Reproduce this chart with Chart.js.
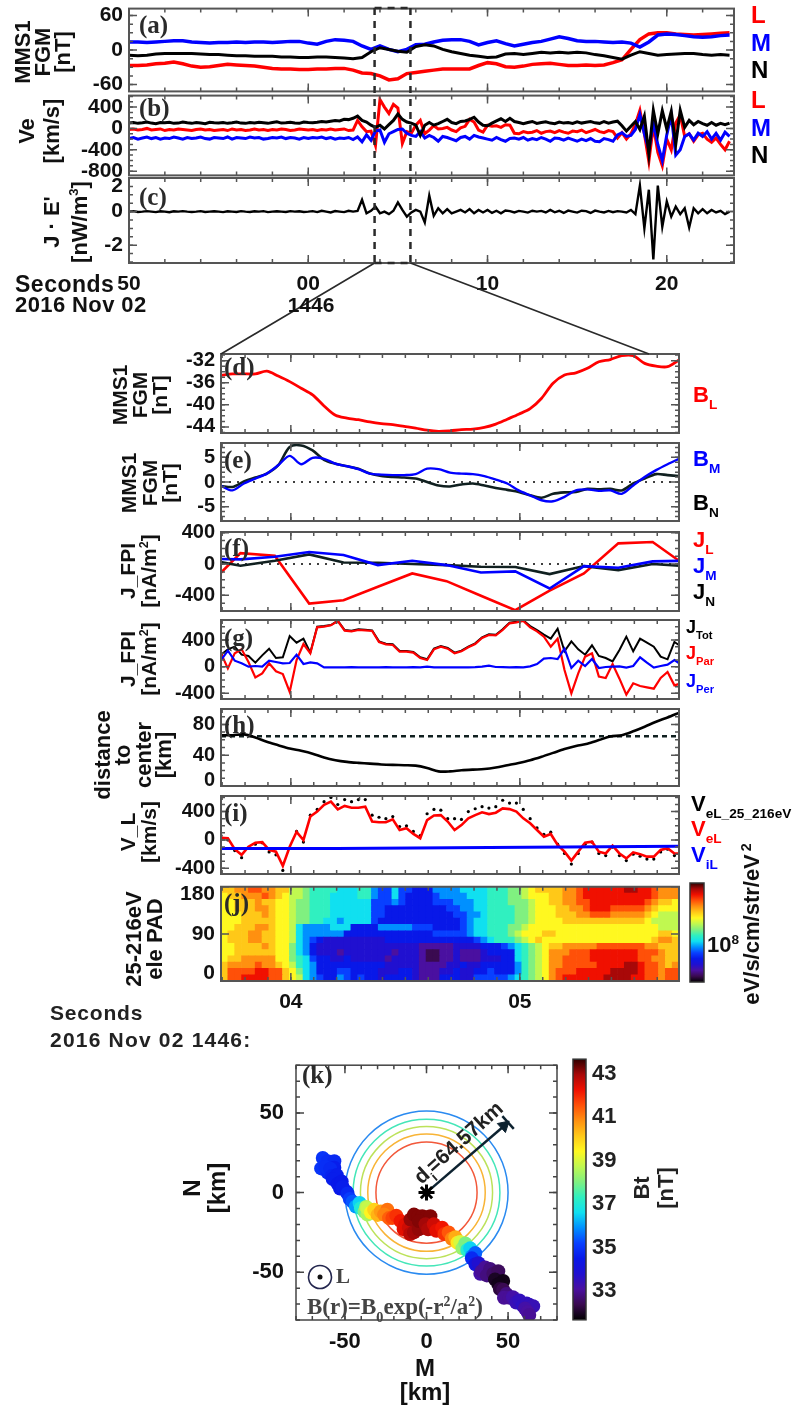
<!DOCTYPE html>
<html>
<head>
<meta charset="utf-8">
<title>MMS1 electron vortex event</title>
<script src="https://cdn.jsdelivr.net/npm/chart.js@4"></script>
<style>
  html, body { margin: 0; padding: 0; background: #fff; }
  #page { position: relative; width: 796px; height: 1407px; overflow: hidden; }
  canvas { position: absolute; }
  .t { position: absolute; white-space: nowrap; font-family: "Liberation Sans", sans-serif; font-weight: bold; text-align: center; }
  .t sub { font-size: 62%; line-height: 0; vertical-align: -0.55em; }
  svg { position: absolute; left: 0; top: 0; }
</style>
</head>
<body>
<div id="page"></div>
<script>
// ---- panels a, b, c: seconds after 14:46:00
const tA = [-10,-9.5,-9,-8.5,-8,-7.5,-7,-6.5,-6,-5.5,-5,-4.5,-4,-3.5,-3,-2.5,-2,-1.5,-1,-0.5,0,0.5,1,1.5,2,2.5,3,3.5,4,4.5,5,5.5,6,6.5,7,7.5,8,8.5,9,9.5,10,10.5,11,11.5,12,12.5,13,13.5,14,14.5,15,15.5,16,16.5,17,17.5,18,18.5,19,19.5,20,20.5,21,21.5,22,22.5,23,23.5];
const bL = [-27,-27,-26,-24,-23,-21,-24,-28,-30,-29,-27,-25,-26,-27,-28,-30,-32,-33,-33,-34,-34,-33,-33,-32,-32,-35,-40,-41,-45,-52,-50,-41,-39,-37,-35,-33,-33,-33,-33,-27,-22,-24,-29,-30,-28,-25,-24,-23,-25,-27,-27,-26,-27,-26,-22,-17,1,18,28,30,30,28,27,26,27,28,29,30];
const bM = [14,14,13,14,15,16,16,14,13,12,13,13,14,13,14,14,13,14,15,15,12,10,15,18,17,15,7,1,7,1,-3,1,9,10,14,17,18,18,15,9,13,16,11,7,10,13,15,19,23,20,16,15,15,14,13,14,12,5,14,26,28,27,25,23,22,23,25,26];
const bN = [-9,-10,-9,-7,-6,-6,-6,-6,-7,-8,-8,-9,-10,-10,-11,-11,-11,-12,-12,-13,-13,-12,-12,-13,-14,-15,-13,-3,4,1,-2,-4,6,9,7,1,-3,-6,-9,-11,-13,-12,-7,-6,-8,-6,-4,-5,-4,-5,-4,-5,-8,-10,-13,-16,-9,-3,-6,-9,-8,-7,-6,-6,-8,-9,-8,-9];

const tB = [-10,-9.75,-9.5,-9.25,-9,-8.75,-8.5,-8.25,-8,-7.75,-7.5,-7.25,-7,-6.75,-6.5,-6.25,-6,-5.75,-5.5,-5.25,
  -5,-4.75,-4.5,-4.25,-4,-3.75,-3.5,-3.25,-3,-2.75,-2.5,-2.25,-2,-1.75,-1.5,-1.25,-1,-0.75,-0.5,-0.25,
  0,0.25,0.5,0.75,1,1.25,1.5,1.75,2,2.25,2.5,2.75,3,3.25,3.5,3.75,4,4.25,4.5,4.75,
  5,5.25,5.5,5.75,6,6.25,6.5,6.75,7,7.25,7.5,7.75,8,8.25,8.5,8.75,9,9.25,9.5,9.75,
  10,10.25,10.5,10.75,11,11.25,11.5,11.75,12,12.25,12.5,12.75,13,13.25,13.5,13.75,14,14.25,14.5,14.75,
  15,15.25,15.5,15.75,16,16.25,16.5,16.75,17,17.25,17.5,17.75,18,18.25,18.5,18.75,19,19.25,19.5,19.75,
  20,20.25,20.5,20.75,21,21.25,21.5,21.75,22,22.25,22.5,22.75,23,23.25,23.5];
const veN = [100,110,95,105,120,100,90,110,105,115,95,100,120,105,95,110,100,90,115,105,
  100,110,95,105,120,100,95,110,100,115,105,95,110,125,100,105,115,100,95,120,
  110,105,115,130,120,135,150,140,170,165,190,230,150,120,60,20,60,-10,70,150,
  270,170,120,100,60,-130,60,110,60,90,130,170,110,90,130,140,170,210,120,60,
  50,100,140,180,130,190,130,110,90,110,130,95,110,125,100,90,120,100,110,95,
  125,100,115,130,105,95,130,100,120,135,50,-50,40,130,-20,230,-480,340,-100,330,
  -10,320,-300,340,20,150,70,130,90,60,110,60,95,70,100];
const veL = [-20,-10,-30,-20,0,-30,-20,-10,-40,-20,-30,-10,-20,-30,-40,-20,-10,-30,-20,-40,
  -30,-20,-40,-10,-30,-20,-40,-30,-10,-30,-20,-40,-20,-30,-10,-20,-40,-30,-10,-20,
  -30,-20,-40,-20,-30,-10,-30,-20,-10,-40,-30,150,30,-60,-50,-320,540,400,280,450,
  380,-280,-60,-90,60,150,-100,-30,50,-10,0,20,-30,-60,10,40,170,120,-30,-70,
  60,40,50,20,70,60,-90,-100,-60,-80,-70,-40,-90,-60,-50,-80,-40,-70,-90,-50,
  -60,-30,-80,-50,-20,-60,-80,-40,-60,-180,-80,-200,-100,80,340,-100,-620,50,-450,-700,
  -200,-400,100,250,-150,-100,-240,-120,-90,-200,-260,-180,-300,-400,-240];
const veM = [-190,-170,-200,-180,-160,-190,-170,-200,-180,-190,-160,-180,-200,-170,-190,-180,-160,-190,-200,-170,
  -180,-190,-160,-200,-170,-180,-190,-160,-180,-170,-200,-190,-170,-180,-160,-190,-170,-180,-200,-170,
  -190,-170,-180,-160,-190,-170,-200,-180,-190,-170,-210,-160,-250,-120,-220,-50,-30,-260,-100,-60,
  -20,-10,-90,-130,-150,-60,-180,-130,-170,-240,-150,-170,-200,-230,-170,-150,-200,-130,-160,-180,
  -200,-220,-170,-210,-240,-190,-180,-200,-170,-220,-190,-210,-170,-200,-240,-180,-190,-220,-180,-210,
  -240,-200,-230,-190,-240,-250,-190,-210,-240,-120,-80,-150,-130,-20,260,-100,-400,100,-300,-600,
  -120,250,-500,-400,-150,-100,-220,-90,-150,-60,-200,-90,-220,-70,-150];
const jDotE = [0,0.03,-0.02,0,0.03,0,-0.03,0.02,0,-0.04,0.02,0,0.03,0,-0.02,0,0.03,-0.02,0,0.02,
  0,-0.03,0.02,0,-0.02,0.03,0,-0.02,0.02,0,0.03,-0.03,0,0.02,0,-0.02,0.03,0,0.02,-0.02,
  0,0.03,-0.03,0.05,0,-0.05,0.03,0,-0.03,0.05,0,0.04,0.7,-0.1,0.05,0.3,-0.1,0,-0.15,0.05,
  0.55,0.1,-0.3,-0.05,0.1,0,-0.65,0.95,-0.25,0.2,-0.1,0.15,-0.1,0,0.1,-0.05,0.15,-0.1,0.1,-0.05,
  0.1,-0.08,0.05,-0.1,0.06,0.03,-0.05,0.04,0,-0.06,0.05,0,0.04,-0.05,0.1,-0.04,0.05,-0.08,0.06,0,
  -0.06,0.05,0.03,-0.08,0.06,0,-0.05,0.04,-0.04,0.03,0,-0.05,0.1,-0.15,1.55,-1,1.3,-2.85,1.55,-0.9,
  0.6,-0.3,0.3,-0.15,0.2,-0.95,0.2,-0.1,0.15,-0.1,0.1,-0.05,0.05,-0.15,0];

// ---- panels d to j: zoomed interval, seconds after 14:46:00
const tD = [3.695,3.745,3.795,3.845,3.895,3.945,3.995,4.045,4.095,4.145,4.195,4.245,4.295,4.345,4.395,4.445,4.495,4.545,4.595,4.645,4.695,4.745,4.795,4.845,4.895,4.945,4.995,5.045,5.095,5.145,5.195,5.245,5.295,5.345,5.395,5.445,5.495,5.545,5.595,5.645,5.695];
const fgmL = [-34.7,-34.4,-34.4,-34.4,-33.9,-34.8,-35.8,-37,-38.2,-40.2,-41.9,-42.4,-42.7,-43.1,-43.4,-43.6,-43.9,-44.2,-44.6,-44.8,-44.7,-44.5,-44.4,-44.1,-43.5,-42.6,-41.7,-40.7,-38.8,-36.1,-34.6,-34.2,-33.4,-32.2,-31.8,-31.1,-31.1,-32.5,-33,-33.1,-31.9];
const fgmN = [-0.8,-1,0.1,0.9,1.7,3.4,7.1,7.4,6.4,4.5,3.7,3.2,2.7,1.7,1.2,1,0.9,0.7,0,-0.7,-0.9,-0.5,-0.3,-0.7,-1.2,-1.6,-2,-2.7,-3.2,-2.4,-2.1,-2,-1.4,-1.5,-1.4,-1.7,-0.3,0.7,1.6,1.4,1.2];
const fgmM = [-0.8,-1.7,-0.3,0.7,1.7,3.4,5.3,3.6,4.9,4.7,3.7,3.2,2.6,1.7,1.5,1.4,1.4,1.6,2.7,2.6,1.9,1.7,1.6,1.2,0.5,-0.3,-1.7,-2.7,-3.7,-3.9,-3,-1.7,-1.5,-1.8,-1.7,-2.4,-0.7,1,2.4,3.6,4.7];
const distCenter = [66,66,67,63,57.4,53,48.7,45.7,42,37,33.5,31.3,30,29,28,27.4,27,26.5,23.5,19,19,20.4,21.3,22,24,27,30,33.5,38,43,48,52,55,59.6,64.3,66,71,77,83.5,89,95];
const diRadius = [64.57,64.57];
const edgeT = [3.695,5.695];
const zeroLine = [0,0];

const tF = [3.63,3.78,3.93,4.08,4.23,4.38,4.53,4.68,4.83,4.98,5.13,5.28,5.43,5.58,5.73];
const jL = [-300,140,107,-505,-462,-290,-120,-218,-405,-590,-340,-120,265,282,-30];
const jM = [70,60,94,154,115,-13,43,-13,-107,-94,-312,-26,-47,34,43];
const jN = [60,-21,43,124,21,17,0,-13,-34,-38,-128,-26,-77,0,-26];

const tG = [3.695,3.725,3.755,3.785,3.815,3.845,3.875,3.905,3.935,3.965,3.995,4.025,4.055,4.085,4.115,4.145,4.175,4.205,4.235,4.265,4.295,4.325,4.355,4.385,4.415,4.445,4.475,4.505,4.535,4.565,4.595,4.625,4.655,4.685,4.715,4.745,4.775,4.805,4.835,4.865,4.895,4.925,4.955,4.985,5.015,5.045,5.075,5.105,5.135,5.165,5.195,5.225,5.255,5.285,5.315,5.345,5.375,5.405,5.435,5.465,5.495,5.525,5.555,5.585,5.615,5.645,5.675,5.705];
const jPar = [200,-25,200,260,70,-160,-100,50,-70,-110,-380,100,340,200,590,600,620,685,540,530,550,545,535,370,335,325,225,225,210,130,100,260,300,270,200,230,290,340,430,475,470,550,650,665,685,590,530,450,300,420,-50,-400,-100,150,200,-150,-170,40,-180,-420,-250,-290,-310,-330,-170,-80,-280,-250];
const jTot = [180,260,300,180,160,60,170,270,130,140,460,360,420,210,600,610,625,690,550,540,560,555,545,380,345,335,235,235,220,140,110,270,310,280,210,240,300,350,440,485,480,560,660,675,695,610,550,480,420,570,230,380,260,180,320,160,130,80,250,450,230,420,360,300,150,110,370,300];
const jPer = [100,240,90,50,0,10,0,90,70,50,55,180,40,65,50,-10,-10,-10,-12,-8,-12,-10,-12,-10,-8,-12,-10,-10,-8,-10,0,-10,-12,-10,-10,-12,-10,-8,0,15,-5,-8,-10,-8,-10,5,40,120,130,115,270,-20,90,10,115,-20,-5,0,5,-15,10,140,60,-15,10,30,100,30];

const vRed = [30,25,-130,-210,-95,-40,-30,-140,-165,-365,-95,115,0,330,400,495,540,430,480,455,455,470,260,250,250,290,140,165,85,25,280,345,350,260,140,210,305,350,390,365,385,445,435,400,305,235,140,45,85,-70,-165,-290,-165,-40,-25,-165,-190,-80,-190,-260,-175,-200,-235,-235,-140,-115,-190,-190];
const vDots = [60,0,-150,-250,-110,-60,-40,-170,-210,-430,-120,120,-30,350,430,540,600,500,570,540,570,570,350,320,300,330,190,200,120,60,370,430,420,300,300,290,400,440,470,450,470,560,520,520,430,300,170,80,110,-60,-190,-340,-190,-60,-30,-190,-220,-100,-220,-290,-200,-230,-270,-270,-170,-130,-220,-230];
const tIon = [3.695,4.2,4.7,5.2,5.695];
const vIon = [-120,-120,-110,-100,-90];

// pitch angle levels, one hex digit per 30 ms cell, rows from 180 down to 0 deg
const padRows = [
  'bbccddcc bb 998 77776 6677 544 6 44333 5555 6666 7778 89a bbbbc cd eeeee effee dccc',
  'abbcccdc ba 998 77766 6677 544 6 43333 4555 5666 7778 89a aabbc cd eeeee eeeee dccc',
  'aabbbcbb aa 988 77766 6666 444 5 43333 4445 5566 7778 889 aabbc cd deeee eeeed cbba',
  'aabbbccb aa 988 77766 6666 443 3 33333 3344 5566 7777 889 aaabb cc deeed ddddc baaa',
  'aaabbbcb aa 988 77766 6666 443 3 33333 3334 4556 7777 889 aaabb bc cdddc ccccb a999',
  'aaabbbbb aa 988 77665 6666 433 3 33333 3333 4566 7777 889 aaaab bb bbbbb bbbba 9999',
  'aabbbccb aa 965 55566 6333 355 5 55444 3333 4566 7778 89a aaaaa aa aaaaa aaaaa a999',
  'abbbccbb aa 965 55555 3333 333 3 33333 4444 4566 7778 9aa abbaa aa aaaaa aaaaa abba',
  'abbbccbb aa 965 43222 2222 223 3 33333 3333 3345 6777 89a baaaa aa aaaaa aaaaa bccb',
  'aabbbbcb aa 865 32222 2222 222 2 22211 1112 2223 3345 678 9abbc cc ccddd ddddc cbbb',
  'aabbbbbb aa 865 32221 2222 222 1 22210 0112 1112 3333 678 9accc dd deeee eeedd dcbb',
  'abbccccc aa 876 43322 3222 221 2 22210 0112 1112 2233 678 9accd dd deeee eeedd ccbb',
  'bccccdcc ba 976 53333 3333 332 2 22211 1122 3223 3333 578 9accd dd ddeee effed dcbc',
  'bddddeed db a86 53334 4333 322 2 33211 1223 2233 4333 578 9acdd de eeeef fffed dcdd',
  'bddeeeed db a96 54335 4343 323 3 33211 1333 2244 4445 678 9acde ee eeeff ffeed dcdd'
];
const padHeight = 12;

// ---- panel k
const trackM = [-63.6,-64.6,-60.6,-56.5,-56.5,-60.6,-62,-59,-58,-55,-57.5,-54.5,-52,-53,-51.4,-49,-48.4,-47,-45.3,-43.3,-41,-40.2,-38,-36.2,-37,-36.2,-34,-32.1,-30,-28,-24,-26,-23,-20.9,-18.5,-15.9,-13,-14,-10.8,-10,-7.7,-4.7,-9.8,-7.7,-5,-2.6,0,2.4,-4.7,-0.6,1,4.5,6,9.6,11,13.6,15.5,17.7,19,20.7,22,23.8,25,26.8,28,29.9,27.8,30,31.9,33,33.9,36,39,37,41,44,42,47,44,45,47,49,47.5,51,53,55,57,59,61.4,63,65.4,60.4,62,63];
const trackN = [21.7,15.2,19.7,19.7,15.6,12.6,16,15,10.5,11,8.5,5.5,7,2.5,3.5,0.5,-0.6,-4,-5.7,-8.7,-6.5,-9.8,-12,-13.8,-9,-9.8,-12.5,-10.8,-14,-11.8,-10.8,-13.8,-16,-15.9,-14.5,-17.9,-20,-23,-22,-26,-25,-23,-16.9,-13.8,-15,-14.8,-15.5,-14.8,-17.9,-19.9,-23,-19.9,-24,-22,-26,-25,-29,-28,-31.5,-31,-35,-32,-36,-35,-40,-38,-41.3,-45,-44.3,-51,-49.4,-47,-48,-52,-51,-49.4,-54.5,-55.5,-57.5,-60.6,-61,-63.6,-66,-66,-65.7,-69,-67.7,-71,-69.7,-70.5,-71.3,-72.8,-75,-76.8];
const trackBt = [35,35,34.9,34.8,34.6,34.8,34.9,34.8,34.7,34.6,34.6,34.5,34.5,34.5,34.6,34.6,34.8,35.1,35.4,36,36.5,37,38,38.5,38.6,38.8,39.5,40,40.4,40.7,41.2,41,41.4,41.7,41.9,42.2,42.4,42.4,42.6,42.8,43,43.1,43.1,43.2,43.2,43.2,43.2,43.2,43.2,43,42.9,42.6,42.4,42.2,41.9,41.5,41,40.5,39.7,39,38.3,38,37.2,36.5,35.8,35.5,34.8,34.2,33.8,33.2,33,33,32.8,32.8,32.6,32.5,32,31.9,31.9,32.2,32.4,32.8,33,33,33.2,33.4,33.5,33.6,33.5,33.5,33.4,33.2,33.1,33];
const ringRadii = [50,45,40.5,36,31];
const ringColors = ['#2a8af0','#44e6b8','#bce25a','#f8b436','#f2583a'];
const arrowM = [0,50];
const arrowN = [0,44];
const arrowHeadM = [47.5];
const arrowHeadN = [42];
const endBarM = [46.5,53.5];
const endBarN = [48,40];

// tick values and labels
const timeTicksTop = [-10,0,10,20];
const labelsTop = ['50','00','10','20'];
const timeTicksZoom = [4,5];
const labelsZoom = ['04','05'];
const ticksBField = [60,0,-60];
const ticksVe = [400,0,-400,-800];
const ticksJE = [2,0,-2];
const ticksBL = [-32,-36,-40,-44];
const ticksBMN = [5,0,-5];
const ticksJ = [400,0,-400];
const ticksDist = [80,40,0];
const ticksPad = [180,90,0];
const ticksK = [-50,0,50];
const ticksBt = [33,35,37,39,41,43];

const jetStops = ['#000000','#3a0a50','#4a10a0','#2010d0','#0818e8','#0840ff','#0090ff','#10e0f0','#30f0c0','#80f080','#c0f850','#fff820','#ffc818','#ff9010','#ff5008','#f01000','#a80808','#300000'];
const RED = '#ff0000', BLUE = '#0000ff', BLACK = '#000000';
const SANS = '"Liberation Sans", sans-serif';

const page = document.getElementById('page');

function hexToRgb(h) {
  return [1,3,5].map(i => parseInt(h.substr(i,2),16));
}

function jetColor(t) {
  const p = Math.max(0, Math.min(0.9999, t)) * (jetStops.length - 1);
  const i = Math.floor(p), f = p - i;
  const a = hexToRgb(jetStops[i]), b = hexToRgb(jetStops[i+1]);
  return 'rgb(' + a.map((v,k) => Math.round(v + (b[k]-v)*f)).join(',') + ')';
}

function toXY(xs, ys) {
  return xs.map((x,i) => ({x: x, y: ys[i]}));
}

function line(xs, ys, color, width, extra) {
  return Object.assign({data: toXY(xs,ys), borderColor: color, borderWidth: width, pointRadius: 0, tension: 0, fill: false}, extra || {});
}

const ticksAt = vals => s => { s.ticks = vals.map(v => ({value: v})); };

// box frame plus IDL style inward ticks
const framePlugin = {
  id: 'frame',
  afterDraw(chart, args, o) {
    const c = chart.ctx, a = chart.chartArea;
    const xs = chart.scales[o.xScale || 'x'], ys = chart.scales[o.yScale || 'y'];
    c.save();
    c.strokeStyle = o.color || '#555';
    c.lineWidth = 1.5;
    const walk = (scale, step, len, draw) => {
      if (!step) return;
      const n0 = Math.ceil(scale.min/step - 1e-6), n1 = Math.floor(scale.max/step + 1e-6);
      for (let n = n0; n <= n1; n++) draw(scale.getPixelForValue(n*step), len);
    };
    const xTick = (px, len) => { c.beginPath(); c.moveTo(px,a.bottom); c.lineTo(px,a.bottom-len); c.moveTo(px,a.top); c.lineTo(px,a.top+len); c.stroke(); };
    const yTick = (py, len) => { c.beginPath(); c.moveTo(a.left,py); c.lineTo(a.left+len,py); c.moveTo(a.right,py); c.lineTo(a.right-len,py); c.stroke(); };
    walk(xs, o.xStep, 8, xTick);
    walk(xs, o.xMinor, 4, xTick);
    walk(ys, o.yStep, 8, yTick);
    walk(ys, o.yMinor, 4, yTick);
    c.lineWidth = o.width || 2;
    c.strokeRect(a.left, a.top, a.right-a.left, a.bottom-a.top);
    c.restore();
  }
};

// Gaussian contours of panel k
const ringPlugin = {
  id: 'rings',
  beforeDatasetsDraw(chart, args, o) {
    if (!o.radii) return;
    const c = chart.ctx, xs = chart.scales.x, ys = chart.scales.y;
    c.save();
    c.lineWidth = 1.5;
    o.radii.forEach((r,i) => {
      c.strokeStyle = o.colors[i];
      c.beginPath();
      c.arc(xs.getPixelForValue(0), ys.getPixelForValue(0), xs.getPixelForValue(r)-xs.getPixelForValue(0), 0, Math.PI*2);
      c.stroke();
    });
    c.restore();
  }
};
Chart.register(framePlugin, ringPlugin);

// one chart per panel, its plot area pinned to the given box
function panel(box, cfg) {
  const pad = 18, bottomExtra = cfg.bottomAxis ? 34 : 0;
  const canvas = document.createElement('canvas');
  const H = box.b - box.t + pad*2 + bottomExtra;
  canvas.width = 796;
  canvas.height = H;
  canvas.style.left = '0px';
  canvas.style.top = (box.t - pad) + 'px';
  page.appendChild(canvas);

  const yOpt = Object.assign({
    type: 'linear',
    grid: {display: false, drawTicks: false},
    border: {display: false},
    afterFit: s => { s.width = cfg.rightAxis ? 796 - box.r : box.l; }
  }, cfg.y);
  yOpt.ticks = Object.assign({autoSkip: false, color: '#111', padding: 6, callback: v => String(v), font: {family: SANS, weight: 'bold', size: 20}}, (cfg.y || {}).ticks);

  const scales = Object.assign({y: yOpt}, cfg.x);
  const options = {
    responsive: false,
    animation: false,
    devicePixelRatio: 1,
    layout: {padding: {left: cfg.rightAxis ? box.l : 0, right: cfg.rightAxis ? 0 : 796 - box.r, top: pad, bottom: cfg.bottomAxis ? 0 : pad}},
    scales: scales,
    plugins: Object.assign({legend: {display: false}, tooltip: {enabled: false}, frame: cfg.frame || {}}, cfg.plugins)
  };
  return new Chart(canvas, {type: cfg.type || 'line', data: {labels: cfg.labels, datasets: cfg.datasets}, options: options});
}

// a linear time axis, labels only where asked
function timeAxis(min, max, vals, labels) {
  return {
    type: 'linear', min: min, max: max, display: !!labels, offset: false,
    grid: {display: false, drawTicks: false},
    border: {display: false},
    afterFit: s => { s.height = labels ? 52 : 0; },
    afterBuildTicks: ticksAt(vals),
    ticks: {
      autoSkip: false, maxRotation: 0, padding: 9, color: '#111',
      font: {family: SANS, weight: 'bold', size: 21},
      callback: v => labels ? labels[vals.indexOf(v)] : ''
    }
  };
}

// keep IDL's habit of pulling the edge labels inside the box
function edgeLabels(top, bottom) {
  return v => {
    if (v === top) return ['', String(v)];
    if (v === bottom) return [String(v), ''];
    return String(v);
  };
}

function txt(x, y, html, o) {
  o = o || {};
  const d = document.createElement('div');
  d.className = 't';
  d.innerHTML = html;
  d.style.left = x + 'px';
  d.style.top = y + 'px';
  d.style.fontSize = (o.size || 22) + 'px';
  d.style.color = o.color || '#111';
  d.style.lineHeight = (o.lh || 1.1);
  if (o.serif) d.style.fontFamily = '"Liberation Serif", serif';
  if (o.ls) d.style.letterSpacing = o.ls + 'px';
  const tx = o.left ? '0' : '-50%';
  d.style.transform = 'translate(' + tx + ',-50%) rotate(' + (o.rot || 0) + 'deg)';
  page.appendChild(d);
}

// ---- top three panels
const X_TOP = {l: 129, r: 734};
const xTop = show => ({x: timeAxis(-10, 23.75, timeTicksTop, show ? labelsTop : null)});
const topFont = {family: SANS, weight: 'bold', size: 21};

panel({l: X_TOP.l, r: X_TOP.r, t: 8, b: 92}, {
  x: xTop(false),
  y: {min: -72, max: 72, afterBuildTicks: ticksAt(ticksBField), ticks: {font: topFont}},
  frame: {xStep: 10, xMinor: 2, yStep: 60, yMinor: 15},
  datasets: [line(tA,bN,BLACK,3), line(tA,bM,BLUE,3.5), line(tA,bL,RED,3.5)]
});

panel({l: X_TOP.l, r: X_TOP.r, t: 95, b: 176}, {
  x: xTop(false),
  y: {min: -880, max: 615, afterBuildTicks: ticksAt(ticksVe), ticks: {font: topFont}},
  frame: {xStep: 10, xMinor: 2, yStep: 400, yMinor: 100},
  datasets: [line(tB,veN,BLACK,3), line(tB,veM,BLUE,3), line(tB,veL,RED,3)]
});

const chartC = panel({l: X_TOP.l, r: X_TOP.r, t: 178, b: 263}, {
  bottomAxis: true,
  x: xTop(true),
  y: {min: -3.06, max: 2, afterBuildTicks: ticksAt(ticksJE), ticks: {callback: edgeLabels(2, null), font: {family: SANS, weight: 'bold', size: 21, lineHeight: 0.8}}},
  frame: {xStep: 10, xMinor: 2, yStep: 2, yMinor: 0.5},
  datasets: [line(tB,jDotE,BLACK,2.4)]
});

// ---- zoomed panels
const XZ = {l: 221, r: 679};
const xZoom = show => ({x: timeAxis(3.695, 5.695, timeTicksZoom, show ? labelsZoom : null)});
const zoomFrame = (step, minor) => ({xStep: 1, xMinor: 0.1, yStep: step, yMinor: minor});
const zoomFont = {family: SANS, weight: 'bold', size: 20};

panel({l: XZ.l, r: XZ.r, t: 354, b: 433}, {
  x: xZoom(false),
  y: {min: -45.1, max: -30.8, afterBuildTicks: ticksAt(ticksBL), ticks: {font: zoomFont}},
  frame: zoomFrame(4, 1),
  datasets: [line(tD,fgmL,RED,2.8,{tension: 0.3})]
});

panel({l: XZ.l, r: XZ.r, t: 443, b: 521}, {
  x: xZoom(false),
  y: {min: -7.9, max: 7.9, afterBuildTicks: ticksAt(ticksBMN), ticks: {font: zoomFont}},
  frame: zoomFrame(5, 1),
  datasets: [
    line(tD,fgmM,BLUE,2.4,{tension: 0.3}),
    line(tD,fgmN,'#102020',2.6,{tension: 0.3}),
    line(edgeT,zeroLine,BLACK,1.5,{borderDash: [2,6]})
  ]
});

panel({l: XZ.l, r: XZ.r, t: 532, b: 611}, {
  x: xZoom(false),
  y: {min: -600, max: 410, afterBuildTicks: ticksAt(ticksJ), ticks: {font: zoomFont}},
  frame: zoomFrame(400, 100),
  datasets: [
    line(tF,jM,BLUE,2.6),
    line(tF,jN,'#102020',2.6),
    line(tF,jL,RED,2.6),
    line(edgeT,zeroLine,BLACK,1.5,{borderDash: [2,6]})
  ]
});

panel({l: XZ.l, r: XZ.r, t: 620, b: 699}, {
  x: xZoom(false),
  y: {min: -485, max: 700, afterBuildTicks: ticksAt(ticksJ), ticks: {font: zoomFont}},
  frame: zoomFrame(400, 100),
  datasets: [line(tG,jPer,BLUE,2.2), line(tG,jPar,RED,2.2), line(tG,jTot,BLACK,2)]
});

panel({l: XZ.l, r: XZ.r, t: 709, b: 786}, {
  x: xZoom(false),
  y: {min: 0, max: 100, afterBuildTicks: ticksAt(ticksDist), ticks: {callback: edgeLabels(null, 0), font: {family: SANS, weight: 'bold', size: 20, lineHeight: 0.6}}},
  frame: zoomFrame(40, 10),
  datasets: [
    line(tD,distCenter,BLACK,2.6,{tension: 0.3}),
    line(edgeT,diRadius,'#102020',2.4,{borderDash: [5,4]})
  ]
});

panel({l: XZ.l, r: XZ.r, t: 796, b: 874}, {
  x: xZoom(false),
  y: {min: -480, max: 620, afterBuildTicks: ticksAt(ticksJ), ticks: {font: zoomFont}},
  frame: zoomFrame(400, 100),
  datasets: [
    line(tIon,vIon,BLUE,3),
    line(tG,vRed,RED,2.6),
    {data: toXY(tG,vDots), showLine: false, pointRadius: 1.6, pointBackgroundColor: BLACK, borderWidth: 0}
  ]
});

// pitch angle spectrogram: stacked bars, one dataset per 12 deg row, bottom row first
const padCells = padRows.map(r => r.replace(/ /g,'').split('').map(c => jetStops[parseInt(c,16)+1]));
const padLabels = padCells[0].map((c,i) => i);
panel({l: XZ.l, r: XZ.r, t: 883, b: 981}, {
  type: 'bar',
  bottomAxis: true,
  labels: padLabels,
  x: {
    x: {type: 'category', display: false, stacked: true, afterFit: s => { s.height = 0; }},
    xTime: Object.assign(timeAxis(3.695, 5.695, timeTicksZoom, labelsZoom), {axis: 'x', position: 'bottom'})
  },
  y: {min: 0, max: 180, stacked: true, afterBuildTicks: ticksAt(ticksPad), ticks: {font: {family: SANS, weight: 'bold', size: 21, lineHeight: 0.75}, callback: edgeLabels(180, 0)}},
  frame: {xScale: 'xTime', xStep: 1, xMinor: 0.1, yStep: 90},
  datasets: padCells.slice().reverse().map(row => ({
    data: row.map(() => padHeight),
    backgroundColor: row,
    borderWidth: 0,
    barPercentage: 1,
    categoryPercentage: 1,
    xAxisID: 'x'
  }))
});

// colour bars
function colorBar(box, yOpts) {
  return panel(box, {
    type: 'bar',
    rightAxis: true,
    labels: ['bar'],
    x: {x: {type: 'category', display: false, afterFit: s => { s.height = 0; }}},
    y: yOpts,
    frame: {color: '#333', width: 1.5},
    datasets: [{
      data: [[yOpts.min, yOpts.max]],
      barPercentage: 1,
      categoryPercentage: 1,
      backgroundColor: ctx => {
        const a = ctx.chart.chartArea;
        if (!a) return '#000';
        const g = ctx.chart.ctx.createLinearGradient(0, a.bottom, 0, a.top);
        jetStops.forEach((c,i) => g.addColorStop(i/(jetStops.length-1), c));
        return g;
      }
    }]
  });
}
colorBar({l: 690, r: 704, t: 883, b: 982}, {position: 'right', display: false, min: 0, max: 1});
colorBar({l: 573, r: 586, t: 1058, b: 1321}, {
  position: 'right', min: 31.68, max: 43.68,
  afterBuildTicks: ticksAt(ticksBt),
  ticks: {color: '#222', padding: 6, font: {family: SANS, weight: 'bold', size: 22}}
});

// ---- panel k
const tickStyle = {family: SANS, weight: 'bold', size: 22};
panel({l: 296, r: 557, t: 1058, b: 1320}, {
  type: 'scatter',
  bottomAxis: true,
  x: {x: {
    type: 'linear', min: -80, max: 80,
    grid: {display: false, drawTicks: false}, border: {display: false},
    afterFit: s => { s.height = 52; },
    afterBuildTicks: ticksAt(ticksK),
    ticks: {padding: 9, color: '#111', font: tickStyle, maxRotation: 0, callback: v => String(v)}
  }},
  y: {min: -80, max: 80, afterBuildTicks: ticksAt(ticksK), ticks: {padding: 12, font: tickStyle}},
  frame: {xStep: 50, xMinor: 10, yStep: 50, yMinor: 10, color: '#444', width: 1.5},
  plugins: {rings: {radii: ringRadii, colors: ringColors}},
  datasets: [
    {data: toXY(endBarM,endBarN), type: 'line', borderColor: '#0d2230', borderWidth: 2.5, pointRadius: 0},
    {data: toXY(arrowHeadM,arrowHeadN), showLine: false, pointStyle: 'triangle', pointRadius: 7, pointRotation: 48, pointBackgroundColor: '#0d2230', pointBorderColor: '#0d2230'},
    {data: [{x: 0, y: 0}], showLine: false, pointStyle: 'star', pointRadius: 8, pointBorderColor: BLACK, pointBorderWidth: 3},
    {data: toXY(arrowM,arrowN), type: 'line', borderColor: '#0d2230', borderWidth: 2.5, pointRadius: 0},
    {
      data: toXY(trackM,trackN), showLine: false, pointRadius: 7, pointBorderWidth: 0,
      pointBackgroundColor: trackBt.map(b => jetColor((b - 31.68) / 12))
    }
  ]
});

// ---- dashed zoom markers and connectors
const sx = chartC.scales.x;
const xa = sx.getPixelForValue(3.7), xb = sx.getPixelForValue(5.7);
page.insertAdjacentHTML('beforeend',
  '<svg width="796" height="1407" fill="none">' +
  '<g stroke="#2a2a2a" stroke-width="2.5" stroke-dasharray="7 6">' +
  '<path d="M' + xa + ' 8V263M' + xb + ' 8V263M' + xa + ' 8H' + xb + 'M' + xa + ' 263H' + xb + '"/></g>' +
  '<path stroke="#2a2a2a" stroke-width="1.6" d="M' + xa + ' 263L221 354M' + xb + ' 263L649 354"/>' +
  '<circle cx="320" cy="1277" r="11.5" stroke="#23264e" stroke-width="1.6"/><circle cx="320" cy="1277" r="2.5" fill="#111"/>' +
  '</svg>');

// ---- axis titles
txt(43, 52, 'MMS1<br>FGM<br>[nT]', {rot: -90, size: 22, lh: 0.9});
txt(39, 131, 'Ve<br>[km/s]', {rot: -90, size: 22, lh: 1.15});
txt(65, 222, 'J &middot; E\'<br>[nW/m<sup style="font-size:60%;line-height:0">3</sup>]', {rot: -90, size: 22, lh: 1.25});

txt(140, 395, 'MMS1<br>FGM<br>[nT]', {rot: -90, size: 21, lh: 0.95});
txt(150, 483, 'MMS1<br>FGM<br>[nT]', {rot: -90, size: 21, lh: 0.98});
txt(138, 571, 'J_FPI<br>[nA/m<sup style="font-size:60%;line-height:0">2</sup>]', {rot: -90, size: 21, lh: 1});
txt(138, 659, 'J_FPI<br>[nA/m<sup style="font-size:60%;line-height:0">2</sup>]', {rot: -90, size: 21, lh: 1});
txt(134, 755, 'distance<br>to<br>center<br>[km]', {rot: -90, size: 22, lh: 0.93});
txt(138, 832, 'V_L<br>[km/s]', {rot: -90, size: 21, lh: 1});
txt(145, 939, '25-216eV<br>ele PAD', {rot: -90, size: 22, lh: 0.95});

txt(752, 924, 'eV/s/cm/str/eV<sup style="font-size:65%;line-height:0">&thinsp;2</sup>', {rot: -90, size: 22});
txt(723, 945, '10<sup style="font-size:62%;line-height:0">8</sup>', {size: 22});

// ---- panel tags
const tagOpts = {serif: true, size: 25, color: '#2a2a2a', left: true};
[['(a)',139,25],['(b)',139,108],['(c)',139,197],['(d)',224,367],['(e)',224,460],['(f)',224,548],['(g)',224,638],['(h)',224,725],['(i)',224,813],['(j)',224,903],['(k)',302,1075]]
  .forEach(t => txt(t[1], t[2], t[0], tagOpts));

// ---- right side legends
const big = c => ({size: 24, color: c, left: true});
[['L',RED,15],['M',BLUE,43],['N',BLACK,70],['L',RED,100],['M',BLUE,128],['N',BLACK,155]]
  .forEach(t => txt(751, t[2], t[0], big(t[1])));

const leg = (x, y, base, sub, color, size) => txt(x, y, base + '<sub>' + sub + '</sub>', {size: size || 22, color: color, left: true});
leg(693, 395, 'B', 'L', RED);
leg(693, 459, 'B', 'M', BLUE);
leg(693, 503, 'B', 'N', BLACK);
leg(693, 540, 'J', 'L', RED);
leg(693, 566, 'J', 'M', BLUE);
leg(693, 592, 'J', 'N', BLACK);
leg(686, 628, 'J', 'Tot', BLACK, 18);
leg(686, 654, 'J', 'Par', RED, 18);
leg(686, 682, 'J', 'Per', BLUE, 18);
leg(691, 804, 'V', 'eL_25_216eV', BLACK, 22);
leg(691, 829, 'V', 'eL', RED, 22);
leg(691, 855, 'V', 'iL', BLUE, 22);

// ---- time captions
txt(15, 285, 'Seconds', {size: 23, left: true, ls: 0.5});
txt(15, 305, '2016 Nov 02', {size: 22, left: true, ls: 0.4});
txt(311, 305, '1446', {size: 21});
txt(50, 1013, 'Seconds', {size: 21, left: true, color: '#222', ls: 0.8});
txt(50, 1040, '2016 Nov 02 1446:', {size: 21, left: true, color: '#222', ls: 1.2});

// ---- panel k annotation
txt(458, 1142, 'd<sub>i</sub>=64.57km', {rot: -42, size: 21, color: '#222'});
txt(336, 1277, 'L', {serif: true, size: 21, color: '#444', left: true});
txt(307, 1307, 'B(r)=B<sub>0</sub>exp(-r<sup style="font-size:60%;line-height:0">2</sup>/a<sup style="font-size:60%;line-height:0">2</sup>)', {serif: true, size: 23, color: '#444', left: true});
txt(192, 1188, 'N', {rot: -90, size: 24});
txt(217, 1188, '[km]', {rot: -90, size: 24});
txt(425, 1368, 'M', {size: 24});
txt(425, 1392, '[km]', {size: 24});
txt(642, 1188, 'Bt', {rot: -90, size: 22, color: '#222'});
txt(666, 1188, '[nT]', {rot: -90, size: 22, color: '#222'});
</script>
</body>
</html>
